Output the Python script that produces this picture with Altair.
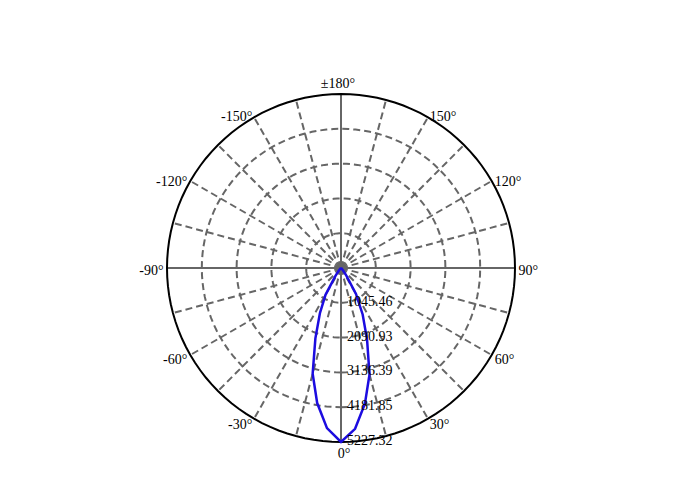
import altair as alt
import pandas as pd

# ---- data ----
R_MAX = 5227.32
ring_values = [1045.46, 2090.93, 3136.39, 4181.85, 5227.32]
ring_texts = ["1045.46", "2090.93", "3136.39", "4181.85", "5227.32"]
spoke_angles = list(range(0, 360, 15))
label_angles = [0, 30, 60, 90, 120, 150, 180, -150, -120, -90, -60, -30]
label_texts = ["0°", "30°", "60°", "90°", "120°", "150°", "±180°",
               "-150°", "-120°", "-90°", "-60°", "-30°"]

beam_angles = [-180, -90, -60, -50, -45, -40, -35, -30, -25, -20, -15, -10, -5,
               0, 5, 10, 15, 20, 25, 30, 35, 40, 45, 50, 60, 90, 180]
beam_values = [0, 0, 5, 20, 40, 90, 290, 930, 1500, 2250, 3290, 4120, 4830,
               5227.32, 4850, 4140, 3310, 2290, 1540, 900, 280, 90, 40, 20, 5, 0, 0]

# ---- tables ----
ring_df = pd.DataFrame(
    [{"ring": r, "a": a} for r in ring_values for a in range(0, 361, 3)]
)
spoke_df = pd.DataFrame({"a": spoke_angles})
rlabel_df = pd.DataFrame({"ring": ring_values, "text": ring_texts})
alabel_df = pd.DataFrame({"a": label_angles, "text": label_texts})
beam_df = pd.DataFrame({"a": beam_angles, "v": beam_values})

sx = alt.Scale(domain=[-R_MAX, R_MAX], nice=False, zero=False)
sy = alt.Scale(domain=[-R_MAX, R_MAX], nice=False, zero=False)
GRAY = "#666666"
FONT = "Liberation Serif"

rings_base = alt.Chart(ring_df).transform_calculate(
    x="datum.ring * sin(datum.a * PI / 180)",
    y="-datum.ring * cos(datum.a * PI / 180)",
).encode(
    x=alt.X("x:Q", scale=sx, axis=None),
    y=alt.Y("y:Q", scale=sy, axis=None),
    detail="ring:N",
    order="a:Q",
)
rings_dashed = rings_base.transform_filter(f"datum.ring < {R_MAX}").mark_line(
    color=GRAY, strokeWidth=2, strokeDash=[7, 4]
)
outer = rings_base.transform_filter(f"datum.ring >= {R_MAX}").mark_line(
    color="black", strokeWidth=2
)

spoke_base = alt.Chart(spoke_df).transform_calculate(
    x0="0", y0="0",
    x1=f"{R_MAX} * sin(datum.a * PI / 180)",
    y1=f"-{R_MAX} * cos(datum.a * PI / 180)",
).encode(
    x=alt.X("x0:Q", scale=sx, axis=None),
    y=alt.Y("y0:Q", scale=sy, axis=None),
    x2="x1:Q",
    y2="y1:Q",
)
spokes_dashed = spoke_base.transform_filter("datum.a % 90 != 0").mark_rule(
    color=GRAY, strokeWidth=2, strokeDash=[7, 4]
)
spokes_solid = spoke_base.transform_filter("datum.a % 90 == 0").mark_rule(
    color=GRAY, strokeWidth=2
)

beam = alt.Chart(beam_df).transform_calculate(
    x="datum.v * sin(datum.a * PI / 180)",
    y="-datum.v * cos(datum.a * PI / 180)",
).mark_line(color="#1c0ce0", strokeWidth=2.5).encode(
    x=alt.X("x:Q", scale=sx, axis=None),
    y=alt.Y("y:Q", scale=sy, axis=None),
    order="a:Q",
)

rlabels = alt.Chart(rlabel_df).transform_calculate(
    x="0", y="-datum.ring"
).mark_text(align="left", baseline="middle", dx=6, dy=-1, font=FONT,
            fontSize=14, color="black").encode(
    x=alt.X("x:Q", scale=sx, axis=None),
    y=alt.Y("y:Q", scale=sy, axis=None),
    text="text:N",
)

LR = R_MAX * 1.02
alabel_base = alt.Chart(alabel_df).transform_calculate(
    x=f"{LR} * sin(datum.a * PI / 180)",
    y=f"-{LR} * cos(datum.a * PI / 180)",
).encode(
    x=alt.X("x:Q", scale=sx, axis=None),
    y=alt.Y("y:Q", scale=sy, axis=None),
    text="text:N",
)
txt = dict(font=FONT, fontSize=14, color="black")
lab_right = alabel_base.transform_filter(
    "datum.a > 0 && datum.a < 180").mark_text(align="left", baseline="middle", dy=3, **txt)
lab_left = alabel_base.transform_filter(
    "datum.a < 0").mark_text(align="right", baseline="middle", dy=3, **txt)
lab_top = alabel_base.transform_filter(
    "datum.a == 180").mark_text(align="center", baseline="bottom", dx=-3, **txt)
lab_bottom = alabel_base.transform_filter(
    "datum.a == 0").mark_text(align="center", baseline="top", dx=3, dy=2, **txt)

chart = alt.layer(
    rings_dashed, spokes_dashed, spokes_solid, outer, beam, rlabels,
    lab_right, lab_left, lab_top, lab_bottom,
).properties(
    width=348, height=348,
    autosize=alt.AutoSizeParams(type="none"),
    padding={"left": 159, "top": 86, "right": 158, "bottom": 32},
    background="white",
).configure_view(stroke=None)

chart.save("out.html", embed_options={"renderer": "svg", "actions": False})
